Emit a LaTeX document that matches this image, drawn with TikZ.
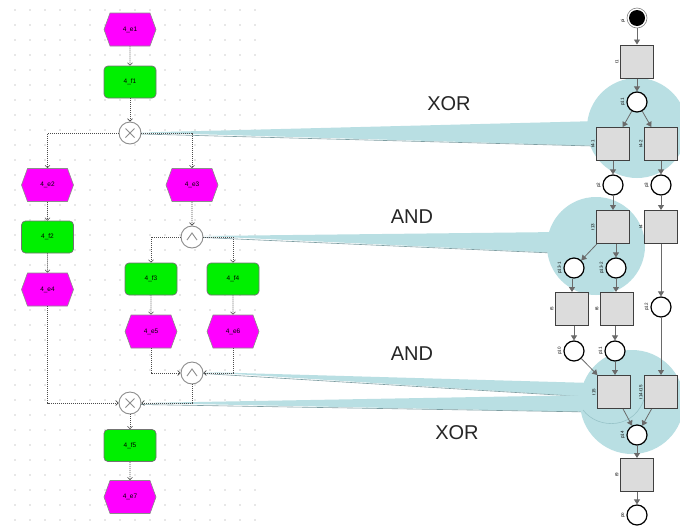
\documentclass[tikz,border=0pt]{standalone}
\usepackage{fontspec}
\setmainfont{Liberation Sans}
\usetikzlibrary{arrows.meta,shapes.symbols}

\definecolor{evfill}{HTML}{FF00FF}
\definecolor{fnfill}{HTML}{00F000}
\definecolor{band}{HTML}{B9DFE3}
\definecolor{bandedge}{HTML}{7E9EA2}
\definecolor{bandarc}{HTML}{98C4C9}
\definecolor{trfill}{HTML}{DCDCDC}
\definecolor{arcgray}{HTML}{6A6A6A}
\definecolor{gridgray}{HTML}{9A9A9A}

\begin{document}
\begin{tikzpicture}[x=1pt,y=-1pt,
  event/.style={shape=signal, signal to=east and west, signal pointer angle=140,
    fill=evfill, draw=black!45, line width=0.6pt, minimum width=52pt,
    minimum height=33pt, inner sep=0pt, font=\fontsize{6.5}{7}\selectfont},
  func/.style={rectangle, rounded corners=4pt, fill=fnfill, draw=black!55,
    line width=0.7pt, minimum width=52pt, minimum height=32pt, inner sep=0pt,
    font=\fontsize{6.5}{7}\selectfont},
  gate/.style={circle, draw=black!45, line width=0.9pt, fill=white,
    minimum size=22pt, inner sep=0pt},
  gatesym/.style={draw=black!45, line width=0.9pt},
  flow/.style={draw=black!70, line width=0.6pt, dash pattern=on 1pt off 1pt,
    -{Straight Barb[length=2.5pt,width=5pt]}},
  place/.style={circle, draw=black, line width=1.2pt, fill=white,
    minimum size=20pt, inner sep=0pt},
  trans/.style={rectangle, draw=black!75, line width=1pt, fill=trfill,
    minimum size=33pt, inner sep=0pt},
  pnarc/.style={draw=arcgray, line width=0.8pt, -{Triangle[length=5pt,width=6pt]}},
  tag/.style={font=\fontsize{4.5}{4.5}\selectfont, rotate=90, inner sep=0.5pt},
  optext/.style={font=\fontsize{20}{24}\selectfont, text=black!85}
]
\useasboundingbox (0,0) rectangle (680,528);
\fill[white] (0,0) rectangle (680,528);

% dotted modelling grid behind the EPC
\foreach \gx in {15,30,...,265}
  \foreach \gy in {10,25,...,520}
    \fill[gridgray] (\gx,\gy) circle[radius=0.65pt];

% highlight bands linking gateways to Petri net fragments
\fill[band] (141,132.5) -- (600,121) -- (600,146) -- cycle;
\draw[bandedge, line width=0.6pt] (141,134) -- (592,146);
\fill[band] (637,128) circle[radius=50pt];

\fill[band] (203,236) -- (560,232) -- (560,253) -- cycle;
\draw[bandedge, line width=0.6pt] (203,237.5) -- (552,253);
\fill[band] (596,246) circle[radius=49pt];

\fill[band] (203,372) -- (592,383) -- (592,397) -- cycle;
\draw[bandedge, line width=0.6pt] (203,373.5) -- (590,397);
\fill[band] (141,403) -- (592,395) -- (592,412) -- cycle;
\draw[bandedge, line width=0.6pt] (141,404.5) -- (590,412);
\fill[band] (632,402) circle[radius=52pt];
\draw[bandarc, line width=0.6pt] (583,410) .. controls (598,430) and (636,430) .. (645,396);

\node[optext] (lxor1) at (449,104) {XOR};
\node[optext] (land1) at (412,217) {AND};
\node[optext] (land2) at (412,354) {AND};
\node[optext] (lxor2) at (457,433) {XOR};

% EPC: events, functions, connectors
\node[event] (e1) at (130,29.5) {4\_e1};
\node[func]  (f1) at (130,82) {4\_f1};
\node[gate]  (x1) at (130,133) {};
\node[event] (e2) at (47.5,185) {4\_e2};
\node[event] (e3) at (192,185) {4\_e3};
\node[func]  (f2) at (47.5,237) {4\_f2};
\node[gate]  (a1) at (192,237) {};
\node[event] (e4) at (47.5,289.5) {4\_e4};
\node[func]  (f3) at (151,279) {4\_f3};
\node[func]  (f4) at (233,279) {4\_f4};
\node[event] (e5) at (151,331.5) {4\_e5};
\node[event] (e6) at (233,331.5) {4\_e6};
\node[gate]  (a2) at (192,373) {};
\node[gate]  (x2) at (130,403) {};
\node[func]  (f5) at (130,445.5) {4\_f5};
\node[event] (e7) at (130,497) {4\_e7};

\draw[gatesym] (x1.center) +(-4.5,-4.5) -- +(4.5,4.5) +(-4.5,4.5) -- +(4.5,-4.5);
\draw[gatesym] (x2.center) +(-4.5,-4.5) -- +(4.5,4.5) +(-4.5,4.5) -- +(4.5,-4.5);
\draw[gatesym] (a1.center) +(-5,3) -- +(0,-4) -- +(5,3);
\draw[gatesym] (a2.center) +(-5,3) -- +(0,-4) -- +(5,3);

\draw[flow] (e1) -- (f1);
\draw[flow] (f1) -- (x1);
\draw[flow] (x1.west) -| (e2.north);
\draw[flow] (x1.east) -| (e3.north);
\draw[flow] (e2) -- (f2);
\draw[flow] (f2) -- (e4);
\draw[flow] (e4.south) |- (x2.west);
\draw[flow] (e3) -- (a1);
\draw[flow] (a1.west) -| (f3.north);
\draw[flow] (a1.east) -| (f4.north);
\draw[flow] (f3) -- (e5);
\draw[flow] (f4) -- (e6);
\draw[flow] (e5.south) |- (a2.west);
\draw[flow] (e6.south) |- (a2.east);
\draw[flow] (a2.south) |- (x2.east);
\draw[flow] (x2) -- (f5);
\draw[flow] (f5) -- (e7);

% Petri net
\node[circle, draw=black!50, line width=0.6pt, fill=white, minimum size=20pt, inner sep=0pt] (s0) at (637,18) {};
\fill[black] (s0.center) circle[radius=8pt];
\node[trans] (t1) at (637,61.5) {};
\node[place] (p1) at (637,102) {};
\node[trans] (t2) at (613,144) {};
\node[trans] (t3) at (661,144) {};
\node[place] (p2) at (613,185) {};
\node[place] (p3) at (661,185) {};
\node[trans] (t4) at (613,227) {};
\node[trans] (t5) at (661,227) {};
\node[place] (p4) at (574,268) {};
\node[place] (p5) at (616,268) {};
\node[place] (p6) at (661,307) {};
\node[trans] (t6) at (572,309) {};
\node[trans] (t7) at (617,309) {};
\node[place] (p7) at (574,351) {};
\node[place] (p8) at (615,351) {};
\node[trans] (t8) at (614,392) {};
\node[trans] (t9) at (661,392) {};
\node[place] (p9) at (637,435) {};
\node[trans] (t10) at (637,475) {};
\node[place] (p10) at (637,515) {};

\draw[pnarc] (s0) -- (t1);
\draw[pnarc] (t1) -- (p1);
\draw[pnarc] (p1) -- (t2);
\draw[pnarc] (p1) -- (t3);
\draw[pnarc] (t2) -- (p2);
\draw[pnarc] (t3) -- (p3);
\draw[pnarc] (p2) -- (t4);
\draw[pnarc] (p3) -- (t5);
\draw[pnarc] (t4) -- (p4);
\draw[pnarc] (t4.south -| p5) -- (p5);
\draw[pnarc] (t5) -- (p6);
\draw[pnarc] (p4.south -| t6) -- (t6);
\draw[pnarc] (p5) -- (t7.north -| p5);
\draw[pnarc] (t6.south -| p7) -- (p7);
\draw[pnarc] (t7.south -| p8) -- (p8);
\draw[pnarc] (p7) -- (t8);
\draw[pnarc] (p8) -- (t8.north -| p8);
\draw[pnarc] (p6) -- (t9);
\draw[pnarc] (t8) -- (p9);
\draw[pnarc] (t9) -- (p9);
\draw[pnarc] (p9) -- (t10);
\draw[pnarc] (t10) -- (p10);

% element names, set sideways
\node[tag, anchor=south] (ls0) at ([xshift=-1pt,yshift=-3pt]s0.west) {pi};
\node[tag, anchor=south] (lt1) at ([xshift=-1pt]t1.west) {t1};
\node[tag, anchor=south] (lp1) at ([xshift=-1pt]p1.west) {p11};
\node[tag, anchor=south] (lt2) at ([xshift=-1pt]t2.west) {t4-1};
\node[tag, anchor=south] (lt3) at ([xshift=-1pt]t3.west) {t4-2};
\node[tag, anchor=south] (lp2) at ([xshift=-1pt]p2.west) {p2};
\node[tag, anchor=south] (lp3) at ([xshift=-1pt]p3.west) {p3};
\node[tag, anchor=south] (lt4) at ([xshift=-1pt]t4.west) {t13};
\node[tag, anchor=south] (lt5) at ([xshift=-1pt]t5.west) {t4};
\node[tag, anchor=south] (lp4) at ([xshift=-1pt]p4.west) {p13-1};
\node[tag, anchor=south] (lp5) at ([xshift=-1pt]p5.west) {p13-2};
\node[tag, anchor=south] (lp6) at ([xshift=-1pt]p6.west) {p12};
\node[tag, anchor=south] (lt6) at ([xshift=-1pt]t6.west) {t5};
\node[tag, anchor=south] (lt7) at ([xshift=-1pt]t7.west) {t6};
\node[tag, anchor=south] (lp7) at ([xshift=-1pt]p7.west) {p10};
\node[tag, anchor=south] (lp8) at ([xshift=-1pt]p8.west) {p11};
\node[tag, anchor=south] (lt8) at ([xshift=-1pt]t8.west) {t15};
\node[tag, anchor=south] (lt9) at ([xshift=-1pt]t9.west) {t14-t15};
\node[tag, anchor=south] (lp9) at ([xshift=-1pt]p9.west) {p14};
\node[tag, anchor=south] (lt10) at ([xshift=-1pt]t10.west) {t9};
\node[tag, anchor=south] (lp10) at ([xshift=-1pt]p10.west) {po};
\end{tikzpicture}
\end{document}
